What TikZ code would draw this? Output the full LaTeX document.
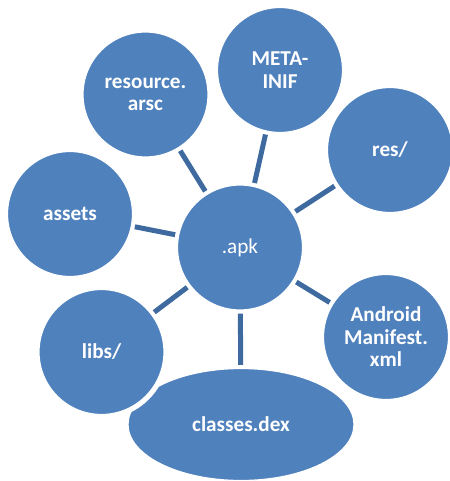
\documentclass[tikz,border=0pt]{standalone}
\usepackage{fontspec}
\setmainfont{Carlito}
\usetikzlibrary{shapes.geometric}
\definecolor{bubble}{HTML}{4F81BD}
\definecolor{spoke}{RGB}{62,106,160}
\tikzset{
  bubble/.style={circle, fill=bubble, draw=white, line width=1.2pt,
    minimum size=125pt, inner sep=0pt, text=white, align=center,
    font=\fontsize{21.2}{22.5}\selectfont\bfseries},
  hub/.style={bubble, font=\fontsize{21.2}{22.5}\selectfont},
  blob/.style={bubble, ellipse, minimum width=226pt, minimum height=112pt},
  spoke/.style={draw=spoke, line width=5pt, shorten <=3pt, shorten >=3pt},
}
\begin{document}
\begin{tikzpicture}[x=1pt,y=-1pt]
\useasboundingbox (0,0) rectangle (449,481);
% outer ellipse first, so the libs bubble can bite into it
\node[blob] (dex) at (241,424.5) {classes.dex};
\fill[white] (101.5,352) circle (67pt);
% centre and satellites
\node[hub] (apk) at (240,247.5) {.apk};
\node[bubble] (arsc) at (145.5,94.5) {resource.\\arsc};
\node[bubble] (meta) at (280,70) {META-\\INIF};
\node[bubble] (res) at (390,150) {res/};
\node[bubble] (assets) at (70,214) {assets};
\node[bubble] (libs) at (101.5,352) {libs/};
\node[bubble] (manifest) at (386,337) {Android\\Manifest.\\xml};
% spokes
\foreach \n in {arsc,meta,res,assets,libs,manifest,dex}
  \draw[spoke] (apk) -- (\n);
\end{tikzpicture}
\end{document}
